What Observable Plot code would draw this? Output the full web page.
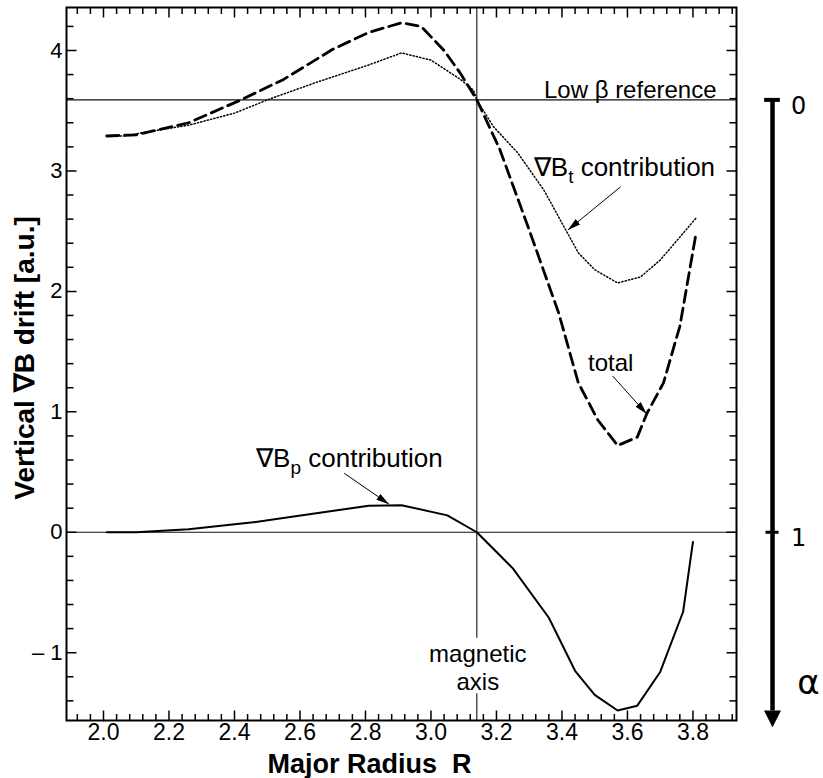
<!DOCTYPE html>
<html>
<head>
<meta charset="utf-8">
<script src="https://cdn.jsdelivr.net/npm/d3@7"></script>
<script src="https://cdn.jsdelivr.net/npm/@observablehq/plot@0.6"></script>
<style>
  html, body { margin: 0; padding: 0; background: #fff; }
  #chart svg { display: block; }
</style>
</head>
<body>
<div id="chart"></div>
<script>
// ---------- data ----------
// ∇B_t contribution (dotted)
const btR = [2.01, 2.06, 2.125, 2.26, 2.40, 2.51, 2.655, 2.81, 2.91, 3.00, 3.09, 3.13, 3.14, 3.19, 3.265, 3.345, 3.45, 3.50, 3.57, 3.64, 3.70, 3.81];
const btV = [3.29, 3.29, 3.32, 3.38, 3.48, 3.60, 3.74, 3.88, 3.98, 3.92, 3.76, 3.67, 3.59, 3.37, 3.15, 2.84, 2.32, 2.18, 2.07, 2.12, 2.26, 2.61];
// total (dashed)
const totR = [2.01, 2.10, 2.26, 2.42, 2.55, 2.70, 2.81, 2.91, 2.97, 3.04, 3.09, 3.14, 3.21, 3.30, 3.39, 3.45, 3.51, 3.57, 3.63, 3.66, 3.71, 3.76, 3.81];
const totV = [3.29, 3.30, 3.40, 3.59, 3.76, 4.01, 4.15, 4.23, 4.20, 4.00, 3.81, 3.59, 3.18, 2.51, 1.82, 1.24, 0.93, 0.72, 0.79, 0.99, 1.24, 1.71, 2.49];
// ∇B_p contribution (solid)
const bpR = [2.01, 2.10, 2.26, 2.45, 2.655, 2.81, 2.91, 3.05, 3.14, 3.25, 3.36, 3.44, 3.50, 3.57, 3.63, 3.70, 3.77, 3.80];
const bpV = [0.0, 0.0, 0.025, 0.08, 0.16, 0.22, 0.225, 0.14, 0.0, -0.30, -0.71, -1.15, -1.35, -1.48, -1.44, -1.16, -0.66, -0.08];

// axes
const xDomain = [1.887, 3.933];
const yDomain = [-1.563, 4.357];
const xMajorTicks = [2.0, 2.2, 2.4, 2.6, 2.8, 3.0, 3.2, 3.4, 3.6, 3.8];
const xTickLabels = ["2.0", "2.2", "2.4", "2.6", "2.8", "3.0", "3.2", "3.4", "3.6", "3.8"];
const xMinorTicks = d3.range(48, 99).map(i => +(i * 0.04).toFixed(2));
const yMajorTicks = [-1, 0, 1, 2, 3, 4];
const yTickLabels = ["\u2013 1", "0", "1", "2", "3", "4"];
const yMinorTicks = d3.range(-7, 22).map(i => +(i * 0.2).toFixed(1));
const xLabel = "Major Radius\u00a0\u00a0R";
const yLabel = "Vertical \u2207B drift [a.u.]";

// reference lines
const lowBetaRef = 3.59;
const magneticAxisR = 3.14;
const magAxisGap = [-0.88, -1.34];

// annotations
const annoEnd = [{text: "Low \u03b2 reference", R: 3.872, v: 3.666}];
const annoStart = [
  {text: "\u2207B_t contribution", R: 3.314, v: 3.03},
  {text: "\u2207B_p contribution", R: 2.466, v: 0.615}
];
const annoMiddle = [
  {text: "total", R: 3.549, v: 1.413},
  {text: "magnetic\naxis", R: 3.143, v: -1.122}
];
const arrows = [
  {R1: 3.579, v1: 2.868, R2: 3.418, v2: 2.51},
  {R1: 3.555, v1: 1.297, R2: 3.659, v2: 0.981},
  {R1: 2.735, v1: 0.49, R2: 2.872, v2: 0.233}
];

// α scale (right side): α = 0 at the low-β reference, α = 1 at zero
const alphaR = 4.043;
const alphaTicks = [0, 1];
const alphaTickLabels = ["0", "1"];
const alphaArrowEnd = 1.412;
const alphaLabel = "\u03b1";
const alphaLabelAt = 1.35;
const yOfAlpha = a => lowBetaRef * (1 - a);

// ---------- chart ----------
const W = 823, H = 778;
const mL = 66, mR = 87, mT = 7, mB = 58;
const iW = W - mL - mR, iH = H - mT - mB;
const pxX = (xDomain[1] - xDomain[0]) / iW;   // data units per pixel
const pxY = (yDomain[1] - yDomain[0]) / iH;
const series = (Rs, Vs) => Rs.map((r, i) => ({R: r, v: Vs[i]}));
const font = "'Liberation Sans', Arial, Helvetica, sans-serif";

// inward tick segments on all four sides, drawn as grouped line paths
const tickSegs = [];
const addX = (vals, len) => vals.forEach(v => {
  tickSegs.push({x: v, y: yDomain[0], k: "b" + v}, {x: v, y: yDomain[0] + len * pxY, k: "b" + v});
  tickSegs.push({x: v, y: yDomain[1], k: "t" + v}, {x: v, y: yDomain[1] - len * pxY, k: "t" + v});
});
const addY = (vals, len) => vals.forEach(v => {
  tickSegs.push({x: xDomain[0], y: v, k: "l" + v}, {x: xDomain[0] + len * pxX, y: v, k: "l" + v});
  tickSegs.push({x: xDomain[1], y: v, k: "r" + v}, {x: xDomain[1] - len * pxX, y: v, k: "r" + v});
});
addX(xMinorTicks, 6.5); addX(xMajorTicks, 10);
addY(yMinorTicks, 7); addY(yMajorTicks, 10);

const chart = Plot.plot({
  width: W, height: H,
  marginLeft: mL, marginRight: mR, marginTop: mT, marginBottom: mB,
  style: {fontFamily: font, background: "#fff", color: "#000", overflow: "visible"},
  x: {domain: xDomain, label: null},
  y: {domain: yDomain, label: null},
  marks: [
    // reference lines
    Plot.ruleY([lowBetaRef], {stroke: "#111", strokeWidth: 1.1}),
    Plot.ruleY([0], {stroke: "#111", strokeWidth: 1.1}),
    Plot.ruleX([magneticAxisR], {y1: yDomain[1], y2: magAxisGap[0], stroke: "#111", strokeWidth: 1.1}),
    Plot.ruleX([magneticAxisR], {y1: magAxisGap[1], y2: yDomain[0], stroke: "#111", strokeWidth: 1.1}),
    // curves
    Plot.line(series(btR, btV), {x: "R", y: "v", stroke: "#000", strokeWidth: 1.5, strokeDasharray: "1.2,2.2"}),
    Plot.line(series(totR, totV), {x: "R", y: "v", stroke: "#000", strokeWidth: 2.8, strokeDasharray: "12,6"}),
    Plot.line(series(bpR, bpV), {x: "R", y: "v", stroke: "#000", strokeWidth: 2}),
    // frame + inward ticks
    Plot.frame({stroke: "#000", strokeWidth: 2}),
    Plot.line(tickSegs, {x: "x", y: "y", z: "k", stroke: "#000", strokeWidth: 1.5, strokeLinecap: "butt"}),
    // tick labels
    Plot.axisX({ticks: xMajorTicks, anchor: "bottom", tickSize: 0, tickPadding: 3, fontSize: 23,
      tickFormat: d => xTickLabels[xMajorTicks.indexOf(d)], label: null}),
    Plot.axisY({ticks: yMajorTicks, anchor: "left", tickSize: 0, tickPadding: 4, fontSize: 22,
      tickFormat: d => yTickLabels[yMajorTicks.indexOf(d)], label: null}),
    // axis titles
    Plot.text([yLabel], {frameAnchor: "left", textAnchor: "middle", lineAnchor: "middle", dx: -41, dy: -6, rotate: -90, fontWeight: "bold", fontSize: 28}),
    Plot.text([xLabel], {frameAnchor: "bottom", textAnchor: "middle", lineAnchor: "middle", dx: -32, dy: 44, fontWeight: "bold", fontSize: 27}),
    // annotations
    Plot.text(annoEnd, {x: "R", y: "v", text: "text", textAnchor: "end", fontSize: 24}),
    Plot.text(annoStart, {x: "R", y: "v", text: "text", textAnchor: "start", fontSize: 26}),
    Plot.text(annoMiddle, {x: "R", y: "v", text: "text", textAnchor: "middle", fontSize: 24, lineHeight: 1.15}),
    Plot.link(arrows, {x1: "R1", y1: "v1", x2: "R2", y2: "v2", stroke: "#000", strokeWidth: 1, markerEnd: "arrow"}),
    // α scale
    Plot.link([{a0: 0, a1: alphaArrowEnd}], {x1: () => alphaR, x2: () => alphaR, y1: d => yOfAlpha(d.a0), y2: d => yOfAlpha(d.a1), stroke: "#000", strokeWidth: 4.5, markerEnd: "arrow"}),
    Plot.ruleY([alphaTicks[0]], {y: a => yOfAlpha(a), x1: alphaR - 0.024, x2: alphaR + 0.024, stroke: "#000", strokeWidth: 4}),
    Plot.ruleY([alphaTicks[1]], {y: a => yOfAlpha(a), x1: alphaR - 0.02, x2: alphaR + 0.02, stroke: "#000", strokeWidth: 3}),
    Plot.text(alphaTicks, {x: () => alphaR, y: a => yOfAlpha(a), text: (a, i) => alphaTickLabels[i], dx: 26, dy: 6, fontFamily: "'DejaVu Sans', sans-serif", fontSize: 24}),
    Plot.text([alphaLabel], {x: () => alphaR, y: () => yOfAlpha(alphaLabelAt), text: d => d, dx: 36, fontFamily: "'DejaVu Sans', sans-serif", fontSize: 34})
  ]
});

// filled arrowheads
const NS = "http://www.w3.org/2000/svg";
chart.querySelectorAll("marker").forEach(m => {
  const sw = +(m.parentNode.getAttribute("stroke-width") || 1);
  while (m.firstChild) m.removeChild(m.firstChild);
  const p = document.createElementNS(NS, "path");
  m.setAttribute("markerUnits", "userSpaceOnUse");
  m.setAttribute("orient", "auto");
  if (sw > 2) {
    m.setAttribute("viewBox", "0 -8.5 17 17");
    m.setAttribute("markerWidth", 17);
    m.setAttribute("markerHeight", 17);
    p.setAttribute("d", "M0,-8.5L17,0L0,8.5Z");
  } else {
    m.setAttribute("viewBox", "-13 -3.5 13 7");
    m.setAttribute("markerWidth", 13);
    m.setAttribute("markerHeight", 7);
    p.setAttribute("d", "M-13,-3.5L0,0L-13,3.5Z");
  }
  m.setAttribute("refX", 0);
  m.setAttribute("refY", 0);
  p.setAttribute("fill", "#000");
  p.setAttribute("stroke", "none");
  m.appendChild(p);
});

// subscripts (∇B_t, ∇B_p)
chart.querySelectorAll("text").forEach(t => {
  if (t.querySelector("tspan")) return;
  const s = t.textContent;
  const m = s.match(/^(.*?)_(\w)(.*)$/);
  if (!m) return;
  t.textContent = "";
  const a = document.createElementNS(NS, "tspan"); a.textContent = m[1];
  const b = document.createElementNS(NS, "tspan"); b.textContent = m[2];
  b.setAttribute("font-size", "19"); b.setAttribute("dy", "7");
  const c = document.createElementNS(NS, "tspan"); c.textContent = m[3];
  c.setAttribute("dy", "-7");
  t.append(a, b, c);
});

document.getElementById("chart").appendChild(chart);
</script>
</body>
</html>
